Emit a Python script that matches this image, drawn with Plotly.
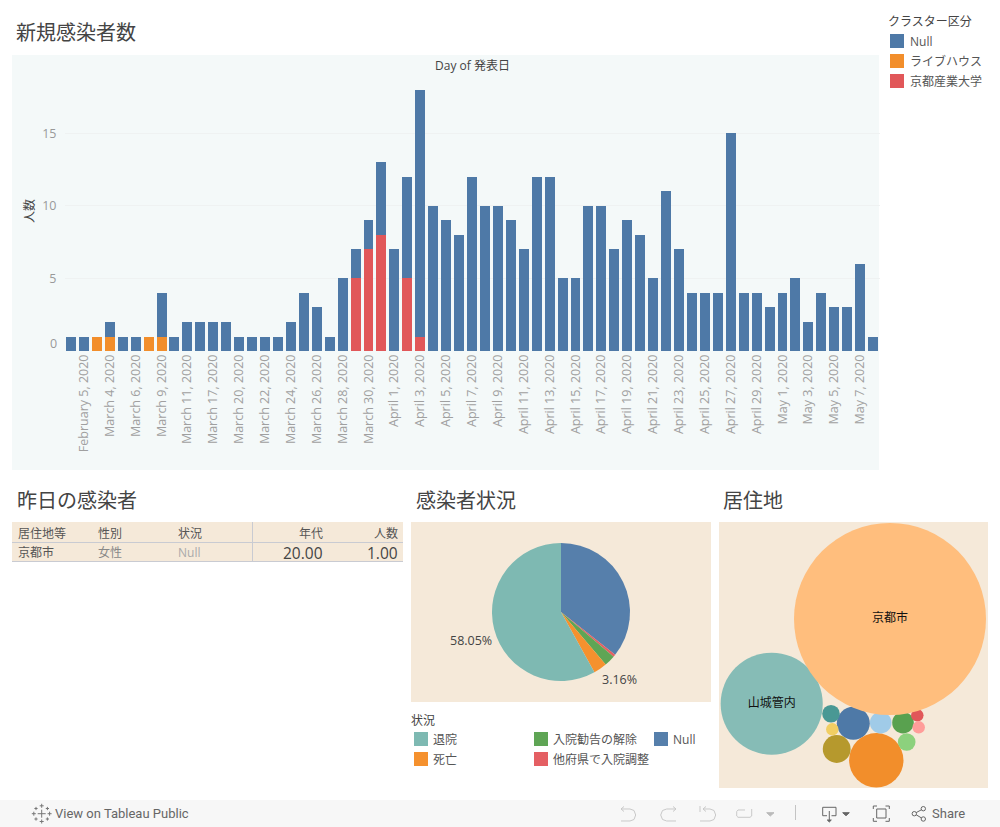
import plotly.graph_objects as go

W, H = 1000, 827
FONT = "'Open Sans', 'Noto Sans CJK JP', sans-serif"

# ---- daily new cases ----
dates = ["January 31, 2020", "February 5, 2020", "February 29, 2020", "March 4, 2020", "March 5, 2020",
         "March 6, 2020", "March 7, 2020", "March 9, 2020", "March 10, 2020", "March 11, 2020",
         "March 13, 2020", "March 17, 2020", "March 19, 2020", "March 20, 2020", "March 21, 2020",
         "March 22, 2020", "March 23, 2020", "March 24, 2020", "March 25, 2020", "March 26, 2020",
         "March 27, 2020", "March 28, 2020", "March 29, 2020", "March 30, 2020", "March 31, 2020",
         "April 1, 2020", "April 2, 2020", "April 3, 2020", "April 4, 2020", "April 5, 2020",
         "April 6, 2020", "April 7, 2020", "April 8, 2020", "April 9, 2020", "April 10, 2020",
         "April 11, 2020", "April 12, 2020", "April 13, 2020", "April 14, 2020", "April 15, 2020",
         "April 16, 2020", "April 17, 2020", "April 18, 2020", "April 19, 2020", "April 20, 2020",
         "April 21, 2020", "April 22, 2020", "April 23, 2020", "April 24, 2020", "April 25, 2020",
         "April 26, 2020", "April 27, 2020", "April 28, 2020", "April 29, 2020", "April 30, 2020",
         "May 1, 2020", "May 2, 2020", "May 3, 2020", "May 4, 2020", "May 5, 2020",
         "May 6, 2020", "May 7, 2020", "May 8, 2020"]
null_cases = [1, 1, 0, 1, 1, 1, 0, 3, 1, 2,
              2, 2, 2, 1, 1, 1, 1, 2, 4, 3,
              1, 5, 2, 2, 5, 7, 7, 17, 10, 9,
              8, 12, 10, 10, 9, 7, 12, 12, 5, 5,
              10, 10, 7, 9, 8, 5, 11, 7, 4, 4,
              4, 15, 4, 4, 3, 4, 5, 2, 4, 3,
              3, 6, 1]
livehouse_cases = [0, 0, 1, 1, 0, 0, 1, 1] + [0] * 55
university_cases = [0] * 22 + [5, 7, 8, 0, 5, 1] + [0] * 35
y_ticks = [5, 10, 15]

# ---- status pie ----
status_labels = ["Null", "他府県で入院調整", "入院勧告の解除", "死亡", "退院"]
status_values = [124, 2, 9, 11, 202]
status_colors = ["#567FAB", "#E45F63", "#5FA555", "#F5912E", "#7EB9B2"]

# ---- residence bubbles ----
area_names = ["山城管内", "", "", "", "", "", "", "", "", "", "", "京都市"]
area_values = [67, 7, 19, 5, 2, 1, 3, 3, 1, 1, 2, 237]
area_colors = ["#86BCB6", "#4E79A7", "#F28E2B", "#B6992D", "#499894", "#F1CE63",
               "#A0CBE8", "#59A14F", "#E15759", "#FF9D9A", "#8CD17D", "#FFBE7D"]
area_x = [771.7, 853.3, 876.3, 836.7, 831, 832.3, 880.7, 903, 917.3, 918.7, 906.7, 890]
area_y = [703.7, 723.3, 760.3, 749, 713.7, 729.3, 722.7, 722.7, 715.3, 727.3, 742, 619]

# ---- yesterday table ----
table_columns = ["居住地等", "性別", "状況", "年代", "人数"]
table_row = ["京都市", "女性", "Null", "20.00", "1.00"]


def X(v):
    return v / W


def Y(v):
    return 1 - v / H


shapes = []
annotations = []


def rect(x0, y0, x1, y1, color):
    shapes.append(dict(type="rect", xref="paper", yref="paper", x0=X(x0), x1=X(x1), y0=Y(y1), y1=Y(y0),
                       fillcolor=color, line_width=0, layer="below"))


def line(x0, y0, x1, y1, color, w=1):
    shapes.append(dict(type="line", xref="paper", yref="paper", x0=X(x0), x1=X(x1), y0=Y(y0), y1=Y(y1),
                       line=dict(color=color, width=w), layer="below"))


def poly(points, color, w=1, fill=None, close=False):
    d = "M" + " L".join(f"{X(a):.5f},{Y(b):.5f}" for a, b in points) + (" Z" if close else "")
    shapes.append(dict(type="path", xref="paper", yref="paper", path=d, layer="below",
                       line=dict(color=color, width=w), fillcolor=fill or "rgba(0,0,0,0)"))


def circle(cx, cy, r, color, w=1):
    shapes.append(dict(type="circle", xref="paper", yref="paper", x0=X(cx - r), x1=X(cx + r), y0=Y(cy + r),
                       y1=Y(cy - r), line=dict(color=color, width=w), layer="below"))


def text(x, y, s, size=12, color="#555555", anchor="left", angle=0, family=FONT):
    annotations.append(dict(xref="paper", yref="paper", x=X(x), y=Y(y), text=s, showarrow=False,
                            xanchor=anchor, yanchor="middle", textangle=angle, borderpad=0, borderwidth=0,
                            font=dict(size=size, color=color, family=family)))


PANEL_TOP = "#F4F9F9"
PANEL = "#F5E9D9"
rect(12, 55, 879, 470, PANEL_TOP)
rect(411, 522, 711, 702, PANEL)
rect(719, 522, 988, 788, PANEL)
rect(12, 522, 403, 561, PANEL)
rect(0, 800, 1000, 827, "#F7F7F7")

# titles
text(16, 32, "新規感染者数", 20, "#444444")
text(17, 500, "昨日の感染者", 20, "#444444")
text(416, 500, "感染者状況", 20, "#444444")
text(723, 500, "居住地", 20, "#444444")
text(472, 65, "Day of 発表日", 12, "#444444", "center")
text(29, 211, "人数", 12, "#444444", "center", -90)
text(57, 343, "0", 12.5, "#999999", "right")

# cluster legend
text(888, 21, "クラスター区分", 12, "#444444")
for yy, col, lab in zip([34, 54, 74], ["#4E79A7", "#F28E2B", "#E15759"], ["Null", "ライブハウス", "京都産業大学"]):
    rect(890, yy, 904, yy + 14, col)
    text(910, yy + 7.5, lab, 12, "#555555")

# status legend
text(411, 720, "状況", 12, "#444444")
for xx, yy, lab, col in [(414, 732, "退院", "#7EB9B2"), (414, 752, "死亡", "#F5912E"),
                         (534, 732, "入院勧告の解除", "#5FA555"), (534, 752, "他府県で入院調整", "#E45F63"),
                         (654, 732, "Null", "#567FAB")]:
    rect(xx, yy, xx + 14, yy + 14, col)
    text(xx + 19, yy + 7.5, lab, 12, "#555555")
text(470.5, 640, "58.05%", 12.5, "#444444", "center")
text(619, 679, "3.16%", 12.5, "#444444", "center")

# table
line(12, 542.5, 403, 542.5, "#C9CBD2")
line(12, 561.5, 403, 561.5, "#C9CBD2")
line(252.5, 522, 252.5, 561, "#C9CBD2")
for xx, anc, c, v, size, vc in zip([18, 98, 178, 323, 398], ["left", "left", "left", "right", "right"],
                                   table_columns, table_row, [12, 12, 12, 15.5, 15.5],
                                   ["#555555", "#888888", "#AAAAAA", "#444444", "#444444"]):
    text(xx, 533, c, 12, "#555555", anc)
    text(xx, 552.5, v, size, vc, anc)

# footer
FOOT = "Roboto, sans-serif"
text(55, 813.5, "View on Tableau Public", 13, "#666666", family=FOOT)
text(932, 813.5, "Share", 13, "#666666", family=FOOT)
OFF = "#C9C9C9"
ON = "#666666"
# undo / redo / revert / refresh
poly([(624, 806.5), (621, 809), (630, 809), (634, 810.5), (635.7, 815), (634, 819.5), (630, 821), (621, 821)], OFF)
poly([(624, 811.5), (621, 809)], OFF)
poly([(673, 806.5), (676, 809), (666.7, 809), (662.5, 810.5), (660.7, 815), (662.5, 819.5), (666.7, 821), (676, 821)], OFF)
poly([(673, 811.5), (676, 809)], OFF)
line(700, 806, 700, 812, OFF)
poly([(706, 806.5), (703, 809), (710, 809), (714, 810.5), (715.7, 815), (714, 819.5), (710, 821), (700, 821)], OFF)
poly([(706, 811.5), (703, 809)], OFF)
poly([(745, 810), (738, 810), (736.7, 811.5), (736.7, 816), (738, 817.3), (750, 817.3), (751.7, 816), (751.7, 809)], OFF)
poly([(766.7, 812.7), (774, 812.7), (770.3, 816)], "#BBBBBB", 1, "#BBBBBB", True)
line(795.5, 805, 795.5, 820, "#C4C4C4")
# download
poly([(827, 815.7), (822.7, 815.7), (822.7, 807.3), (836, 807.3), (836, 815.7), (831.5, 815.7)], ON)
line(829.3, 811, 829.3, 820, ON)
poly([(827.3, 820), (831.3, 820), (829.3, 822)], ON, 1, ON, True)
poly([(842.7, 812.7), (849.3, 812.7), (846, 815.7)], ON, 1, ON, True)
# fullscreen
poly([(876.7, 809), (886, 809), (886, 818), (876.7, 818)], ON, 1, None, True)
poly([(873.3, 809), (873.3, 806), (877, 806)], ON)
poly([(885.5, 806), (889.3, 806), (889.3, 809)], ON)
poly([(873.3, 818), (873.3, 821.3), (877, 821.3)], ON)
poly([(885.5, 821.3), (889.3, 821.3), (889.3, 818)], ON)
# share
circle(914.3, 813.7, 2.2, ON)
circle(923.3, 808.7, 2.2, ON)
circle(923.3, 819, 2.2, ON)
line(916.2, 812.6, 921.4, 809.8, ON)
line(916.2, 814.8, 921.4, 817.9, ON)
# tableau logo
for cx, cy, arm in [(41.7, 813.7, 4), (41.7, 805.8, 2), (41.7, 821.5, 2), (33.8, 813.7, 2), (49.6, 813.7, 2),
                    (36, 808.5, 1.6), (47.4, 808.5, 1.6), (36, 819, 1.6), (47.4, 819, 1.6)]:
    line(cx - arm, cy, cx + arm, cy, "#777777")
    line(cx, cy - arm, cx, cy + arm, "#777777")

fig = go.Figure()
for name, vals, col in [("ライブハウス", livehouse_cases, "#F28E2B"),
                        ("京都産業大学", university_cases, "#E15759"),
                        ("Null", null_cases, "#4E79A7")]:
    fig.add_bar(x=dates, y=vals, name=name, marker=dict(color=col, line_width=0), xaxis="x", yaxis="y")

fig.add_pie(labels=status_labels, values=status_values, sort=False, direction="clockwise", rotation=0,
            marker=dict(colors=status_colors, line_width=0), textinfo="none",
            domain=dict(x=[X(492), X(630)], y=[Y(681), Y(543)]))

fig.add_scatter(x=area_x, y=area_y, mode="markers+text", text=area_names, textposition="middle center",
                textfont=dict(size=12, color="#111111", family=FONT), xaxis="x2", yaxis="y2", cliponaxis=False,
                marker=dict(size=area_values, sizemode="area", sizeref=2 / (2 * 6.236) ** 2, color=area_colors,
                            opacity=1, line_width=0))

fig.update_layout(
    width=W, height=H, margin=dict(l=0, r=0, t=0, b=0), autosize=False, showlegend=False,
    paper_bgcolor="white", plot_bgcolor="rgba(0,0,0,0)", barmode="stack", bargap=0.23,
    font=dict(family=FONT), shapes=shapes, annotations=annotations,
    xaxis=dict(domain=[X(64.5), X(879.5)], anchor="y", type="category", categoryorder="array", categoryarray=dates,
               range=[-0.5, 62.5], tickmode="array", tickvals=dates[1::2], ticktext=dates[1::2], tickangle=-90,
               tickfont=dict(size=12.5, color="#A0A0A0"), showgrid=False, showline=False, ticks="", zeroline=False),
    yaxis=dict(domain=[Y(351), Y(75)], anchor="x", range=[0, 19.03], tickmode="array", tickvals=y_ticks,
               tickfont=dict(size=12.5, color="#999999"), gridcolor="#EFF2F2", gridwidth=1, zeroline=False,
               showline=False, ticks="", ticklabelstandoff=7),
    xaxis2=dict(domain=[X(719), X(988)], anchor="y2", range=[719, 988], visible=False),
    yaxis2=dict(domain=[Y(788), Y(522)], anchor="x2", range=[788, 522], visible=False),
)

fig.write_html("out.html", config=dict(displayModeBar=False),
               post_script="document.body.style.margin='0';document.body.style.overflow='hidden';")
